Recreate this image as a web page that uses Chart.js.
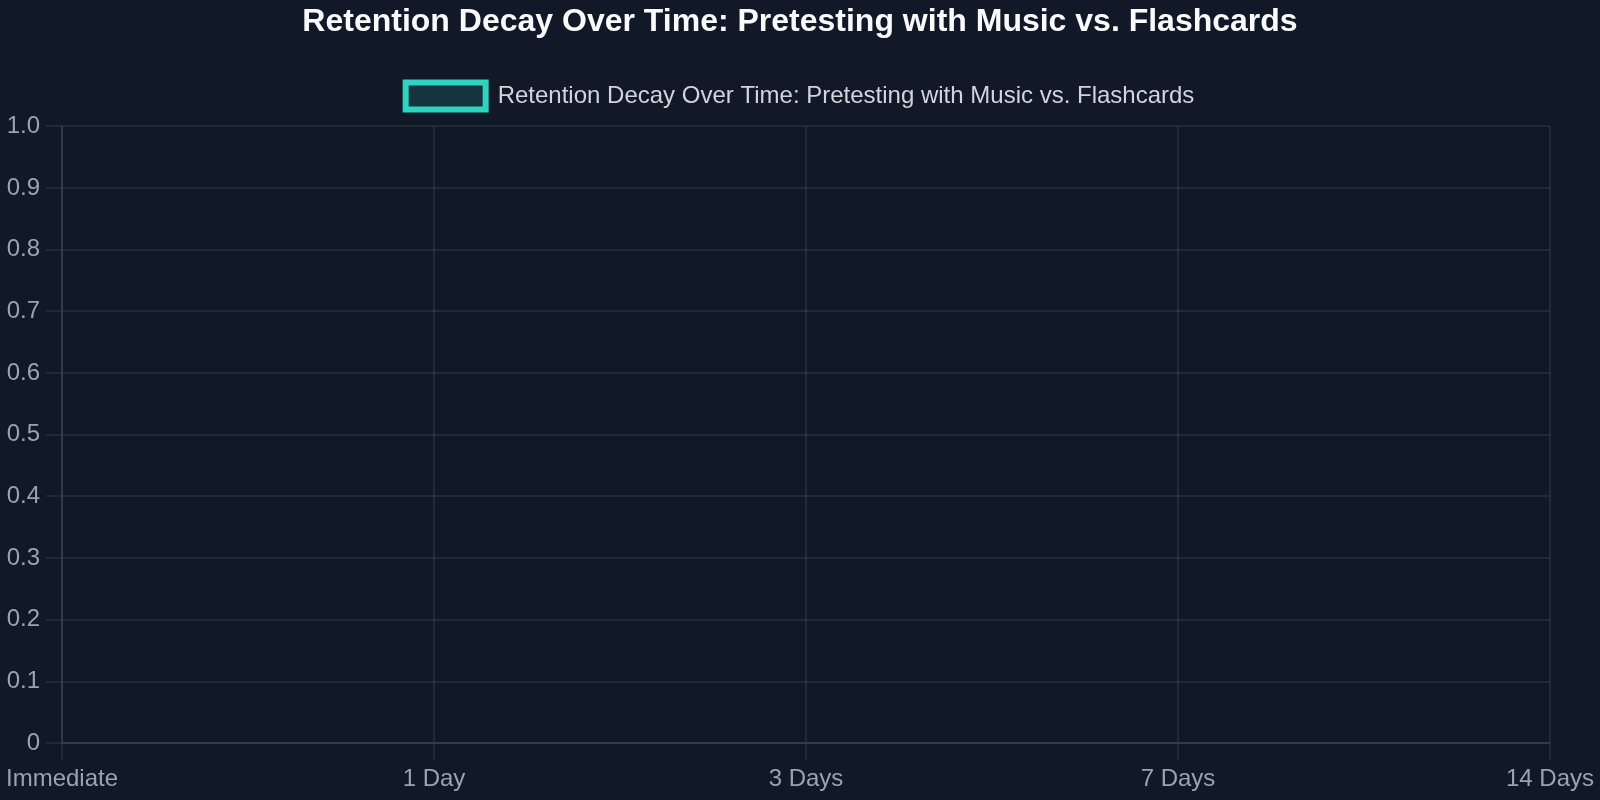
<!DOCTYPE html>
<html>
<head>
<meta charset="utf-8">
<script src="https://cdn.jsdelivr.net/npm/chart.js@4/dist/chart.umd.min.js"></script>
<style>
    html, body { margin: 0; padding: 0; background: #111827; }
    #wrap { width: 1600px; height: 800px; }
</style>
</head>
<body>
<div id="wrap"><canvas id="retention-chart"></canvas></div>
<script>
// Chart data
const chartTitle = 'Retention Decay Over Time: Pretesting with Music vs. Flashcards';
const timePoints = ['Immediate', '1 Day', '3 Days', '7 Days', '14 Days'];
// nothing is plotted in the reference, every point is empty
const retentionValues = [null, null, null, null, null];
const yTicks = [0, 0.1, 0.2, 0.3, 0.4, 0.5, 0.6, 0.7, 0.8, 0.9, 1.0];

const fontFamily = '"Liberation Sans", Arial, Helvetica, sans-serif';
const gridColor = 'rgba(255, 255, 255, 0.08)';
const tickColor = '#9ca3af';

// a bit more room between the legend and the plot
const legendSpacer = {
    id: 'legendSpacer',
    beforeInit(chart) {
        const fit = chart.legend.fit;
        chart.legend.fit = function () {
            fit.call(this);
            this.height += 7;
        };
    }
};

const ctx = document.getElementById('retention-chart').getContext('2d');

new Chart(ctx, {
    type: 'line',
    data: {
        labels: timePoints,
        datasets: [{
            label: chartTitle,
            data: retentionValues,
            borderColor: '#2dd4bf',
            backgroundColor: 'rgba(45, 212, 191, 0.15)',
            borderWidth: 6,
            fill: true
        }]
    },
    options: {
        responsive: true,
        maintainAspectRatio: false,
        animation: false,
        layout: { padding: 0 },
        plugins: {
            title: {
                display: true,
                text: chartTitle,
                color: '#f9fafb',
                font: { family: fontFamily, size: 32, weight: 'bold' },
                padding: { top: 3, bottom: 20 }
            },
            legend: {
                display: true,
                position: 'top',
                labels: {
                    color: '#d1d5db',
                    font: { family: fontFamily, size: 24 },
                    boxWidth: 80,
                    boxHeight: 27,
                    padding: 21
                }
            },
            tooltip: { enabled: false }
        },
        scales: {
            x: {
                grid: { color: gridColor, lineWidth: 2, tickLength: 16 },
                border: { color: gridColor, width: 2 },
                ticks: { color: tickColor, font: { family: fontFamily, size: 24 }, padding: 6, maxRotation: 0 }
            },
            y: {
                min: yTicks[0],
                max: yTicks[yTicks.length - 1],
                grid: { color: gridColor, lineWidth: 2, tickLength: 16 },
                border: { color: gridColor, width: 2 },
                afterBuildTicks: (axis) => { axis.ticks = yTicks.map(v => ({ value: v })); },
                ticks: { color: tickColor, font: { family: fontFamily, size: 24 }, padding: 6 }
            }
        }
    },
    plugins: [legendSpacer]
});
</script>
</body>
</html>
